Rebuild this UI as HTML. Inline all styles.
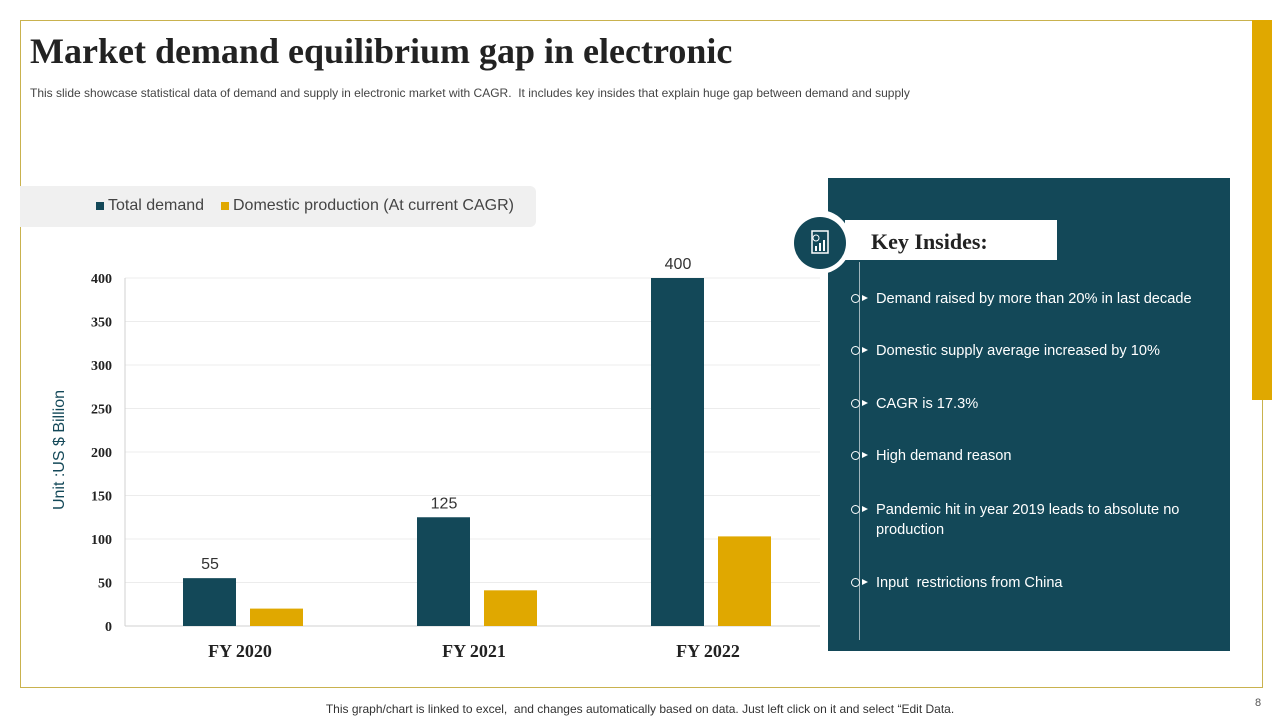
<!DOCTYPE html>
<html><head><meta charset="utf-8"><style>
body{margin:0;width:1280px;height:720px;background:#fff;font-family:"Liberation Sans",sans-serif;position:relative;overflow:hidden}
.abs{position:absolute}
.kb{position:absolute;left:876px;color:#fff;font-size:14.6px;line-height:20px;width:340px}
.dot{position:absolute;left:851px;width:9px;height:9px;border:1.5px solid #fff;border-radius:50%;box-sizing:border-box}
.dot:after{content:"";position:absolute;left:10px;top:0;border-left:6px solid #fff;border-top:3.5px solid transparent;border-bottom:3.5px solid transparent}
</style></head><body>
<div class="abs" style="left:20px;top:20px;width:1241px;height:666px;border:1px solid #c9b24e"></div>
<div class="abs" style="left:1252px;top:20px;width:20px;height:380px;background:#e0a800"></div>
<div class="abs" style="left:30px;top:30px;font-family:'Liberation Serif',serif;font-weight:bold;font-size:36px;color:#222;white-space:nowrap">Market demand equilibrium gap in electronic</div>
<div class="abs" style="left:30px;top:86px;font-size:12px;color:#444;white-space:nowrap">This slide showcase statistical data of demand and supply in electronic market with CAGR.&nbsp; It includes key insides that explain huge gap between demand and supply</div>
<div class="abs" style="left:20px;top:186px;width:516px;height:41px;background:#f0f0f0;border-radius:0 6px 6px 0"></div>
<div class="abs" style="left:96px;top:197px;font-size:16px;color:#444"><span style="display:inline-block;width:8px;height:8px;background:#134858;margin-right:4px"></span>Total demand</div>
<div class="abs" style="left:221px;top:197px;font-size:16px;color:#444"><span style="display:inline-block;width:8px;height:8px;background:#e0a800;margin-right:4px"></span>Domestic production (At current CAGR)</div>
<div class="abs" style="left:-40px;top:441px;width:200px;text-align:center;transform:rotate(-90deg);font-size:16px;color:#134858;white-space:nowrap">Unit :US $ Billion</div>
<svg class="abs" style="left:0;top:0" width="830" height="700" id="chart"></svg>
<div class="abs" style="left:828px;top:178px;width:402px;height:473px;background:#134858"></div>
<div class="abs" style="left:859px;top:262px;width:1px;height:378px;background:#9fb4bb"></div>
<div class="abs" style="left:845px;top:220px;width:212px;height:40px;background:#fff"></div>
<div class="abs" style="left:871px;top:229px;font-family:'Liberation Serif',serif;font-weight:bold;font-size:22px;color:#222">Key Insides:</div>
<div class="abs" style="left:787px;top:210px;width:64px;height:64px;border-radius:50%;background:#fff"></div>
<div class="abs" style="left:794px;top:217px;width:52px;height:52px;border-radius:50%;background:#134858">
<svg width="52" height="52"><rect x="18" y="14" width="16" height="22" fill="none" stroke="#fff" stroke-width="1.5"/><rect x="21" y="29" width="2" height="5" fill="#fff"/><rect x="25" y="26" width="2" height="8" fill="#fff"/><rect x="29" y="23" width="2" height="11" fill="#fff"/><circle cx="22" cy="21" r="3" fill="none" stroke="#fff"/></svg></div>
<div class="dot" style="top:294px"></div><div class="kb" style="top:289px">Demand raised by more than 20% in last decade</div>
<div class="dot" style="top:346px"></div><div class="kb" style="top:341px">Domestic supply average increased by 10%</div>
<div class="dot" style="top:399px"></div><div class="kb" style="top:394px">CAGR is 17.3%</div>
<div class="dot" style="top:451px"></div><div class="kb" style="top:446px">High demand reason</div>
<div class="dot" style="top:505px"></div><div class="kb" style="top:500px">Pandemic hit in year 2019 leads to absolute no production</div>
<div class="dot" style="top:578px"></div><div class="kb" style="top:573px">Input&nbsp; restrictions from China</div>
<div class="abs" style="left:0;width:1280px;text-align:center;top:702px;font-size:12px;color:#333;white-space:nowrap">This graph/chart is linked to excel,&nbsp; and changes automatically based on data. Just left click on it and select “Edit Data.</div>
<div class="abs" style="left:1255px;top:697px;font-size:11px;color:#555">8</div>
<script>
const categories=["FY 2020","FY 2021","FY 2022"];
const demand=[55,125,400];
const production=[20,41,103];
const ticks=[0,50,100,150,200,250,300,350,400];
const svg=document.getElementById('chart');const NS="http://www.w3.org/2000/svg";
const y0=626,y1=278,x0=125,x1=820;
const Y=v=>y0-(v/400)*(y0-y1);
const band=234;
const X=i=>240+band*i;
function mk(t,a){const e=document.createElementNS(NS,t);for(const k in a)e.setAttribute(k,a[k]);svg.appendChild(e);return e;}
ticks.forEach(t=>{
 const l=mk('line',{x1:x0,x2:x1,y1:Y(t),y2:Y(t),stroke:t?'#ececec':'#d0d0d0'});
 
 
 const tx=mk('text',{x:112,y:Y(t)+5,'text-anchor':'end','font-family':'Liberation Serif,serif','font-weight':'bold','font-size':14,fill:'#222'});tx.textContent=t;
 
 
});
mk('line',{x1:x0,x2:x0,y1:y1,y2:y0,stroke:'#d0d0d0'});
categories.forEach((c,i)=>{
 const cx=X(i);
 const b=mk('rect',{x:cx-57,y:Y(demand[i]),width:53,height:y0-Y(demand[i]),fill:'#134858'});
 
 
 const p=mk('rect',{x:cx+10,y:Y(production[i]),width:53,height:y0-Y(production[i]),fill:'#e0a800'});
 
 
 const v=mk('text',{x:cx-30,y:Y(demand[i])-9,'text-anchor':'middle','font-size':16,fill:'#333','font-family':'Liberation Sans,sans-serif'});v.textContent=demand[i];
 
 
 const t=mk('text',{x:cx,y:657,'text-anchor':'middle','font-family':'Liberation Serif,serif','font-weight':'bold','font-size':18,fill:'#222'});t.textContent=c;
 
 
});
</script>
</body></html>
